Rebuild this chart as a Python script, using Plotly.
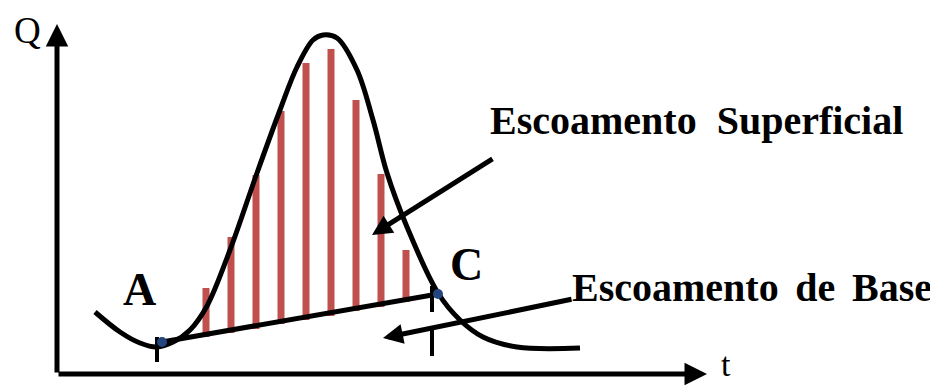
import plotly.graph_objects as go

# hydrograph curve (t, Q) in diagram units, origin at the axes corner
curve_t = [38, 63, 83, 100, 116, 133, 150, 173, 200, 223, 240, 256, 266, 280, 300, 316, 330, 350, 381, 403, 426, 460, 523]
curve_q = [62, 42, 31, 27, 32, 44, 68, 124, 201, 264, 307, 334, 339, 336, 304, 254, 201, 147, 81, 54, 37, 27, 26]

# surface runoff bars (red)
bar_t = [149, 174, 199, 224, 249, 274, 299, 324, 349]
bar_top = [86, 137, 199, 263, 311, 325, 274, 200, 124]
bar_bottom = [37, 41, 45, 50, 54, 58, 63, 67, 72]

# base flow separation line A -> C
sep_t = [105, 381]
sep_q = [32, 80]
point_labels = ["A", "C"]

# axes extent
t_max = 650
q_max = 350

RED = "#C0504D"
SERIF = "Liberation Serif, Times New Roman, serif"

fig = go.Figure()

# bars drawn between separation line and curve
fig.add_trace(go.Bar(
    x=bar_t,
    y=[top - bot for top, bot in zip(bar_top, bar_bottom)],
    base=bar_bottom,
    width=7,
    marker=dict(color=RED, line=dict(width=0)),
    hoverinfo="skip",
))

# hydrograph
fig.add_trace(go.Scatter(
    x=curve_t, y=curve_q, mode="lines",
    line=dict(color="black", width=5, shape="spline", smoothing=1.0),
    hoverinfo="skip",
))

# base line
fig.add_trace(go.Scatter(
    x=sep_t, y=sep_q, mode="lines",
    line=dict(color="black", width=5),
    hoverinfo="skip",
))

# tick marks at A and C
fig.add_trace(go.Scatter(
    x=[100, 100, None, 375, 375, None, 375, 375],
    y=[12, 37, None, 62, 88, None, 18, 47],
    mode="lines",
    line=dict(color="black", width=4),
    hoverinfo="skip",
))

# blue points
fig.add_trace(go.Scatter(
    x=sep_t, y=sep_q, mode="markers",
    marker=dict(color="#23467E", size=10),
    hoverinfo="skip",
))

annotations = []

def arrow(x, y, ax, ay, size=0.8):
    annotations.append(dict(
        x=x, y=y, ax=ax, ay=ay, xref="x", yref="y", axref="x", ayref="y",
        text="", showarrow=True, arrowhead=2, arrowsize=size,
        arrowwidth=5, arrowcolor="black", standoff=0,
    ))

# axes
arrow(t_max, 0, 0, 0, 0.9)
arrow(0, q_max, 0, 0, 0.9)
# pointer arrows
arrow(315, 139, 437, 216)
arrow(326, 36, 516, 75)

def label(text, x, y, size, bold=False, yanchor="middle"):
    if bold:
        text = "<b>" + text + "</b>"
    annotations.append(dict(
        x=x, y=y, xref="x", yref="y", text=text, showarrow=False,
        font=dict(family=SERIF, size=size, color="black"),
        xanchor="center", yanchor=yanchor,
    ))

label("Q", -30, 366, 37, yanchor="top")
label("t", 669, -11, 34, yanchor="bottom")
label(point_labels[0], 82, 85, 46, bold=True)
label(point_labels[1], 409, 110, 46, bold=True)
label("Escoamento\u00a0 Superficial", 639, 254, 40, bold=True)
label("Escoamento \u2006de \u2006Base", 695, 87, 40, bold=True)

# the page body adds an 8px offset, so ranges are shifted to compensate
fig.update_layout(
    width=938, height=385,
    margin=dict(l=0, r=0, t=0, b=0),
    paper_bgcolor="white", plot_bgcolor="white",
    showlegend=False,
    xaxis=dict(range=[-49, 889], visible=False, fixedrange=True),
    yaxis=dict(range=[-19, 366], visible=False, fixedrange=True),
    annotations=annotations,
)

fig.write_html("out.html")
